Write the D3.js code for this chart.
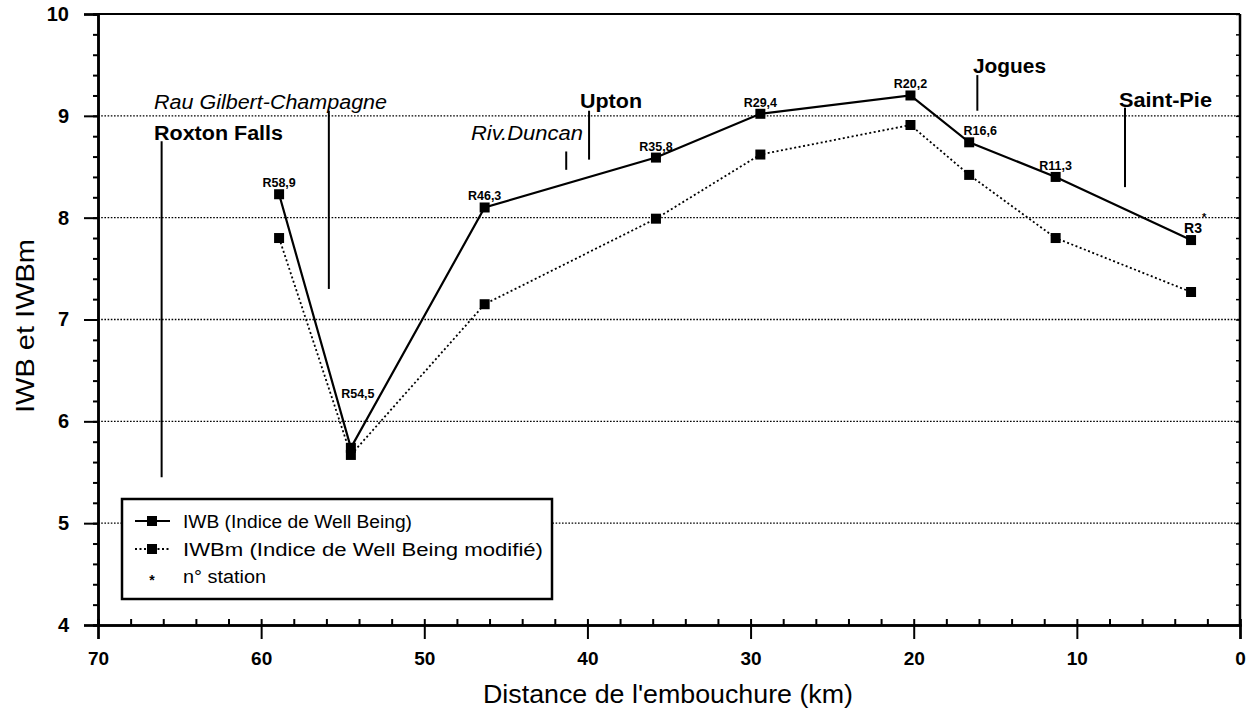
<!DOCTYPE html>
<html>
<head>
<meta charset="utf-8">
<script src="https://cdn.jsdelivr.net/npm/d3@7"></script>
<style>
  html, body { margin: 0; padding: 0; background: #fff; }
  svg { display: block; font-family: "Liberation Sans", Arial, sans-serif; }
</style>
</head>
<body>
<svg id="chart" width="1248" height="719"></svg>
<script>
// Stations along the river (km from the mouth) and their indices
const stations = ["R58,9", "R54,5", "R46,3", "R35,8", "R29,4", "R20,2", "R16,6", "R11,3", "R3"];
const distanceKm = [58.9, 54.5, 46.3, 35.8, 29.4, 20.2, 16.6, 11.3, 3.0];
const iwb  = [8.23, 5.74, 8.10, 8.59, 9.02, 9.20, 8.74, 8.40, 7.78];
const iwbm = [7.80, 5.67, 7.15, 7.99, 8.62, 8.91, 8.42, 7.80, 7.27];

// Landmarks (towns in bold, tributaries in italics)
const landmarkNames = ["Roxton Falls", "Rau Gilbert-Champagne", "Riv.Duncan", "Upton", "Jogues", "Saint-Pie"];
const landmarkKm    = [66.1, 55.85, 41.3, 39.9, 16.1, 7.05];
const landmarkKind  = ["town", "river", "river", "town", "town", "town"];

const xTicks = [70, 60, 50, 40, 30, 20, 10, 0];
const yTicks = [4, 5, 6, 7, 8, 9, 10];
const gridValues = [5, 6, 7, 8, 9];

const legendLabels = ["IWB (Indice de Well Being)", "IWBm (Indice de Well Being modifié)", "n° station"];

const svg = d3.select("#chart");

const x = d3.scaleLinear().domain([70, 0]).range([98, 1240]);
const y = d3.scaleLinear().domain([4, 10]).range([625, 14]);

// Plot frame top / right
svg.append("line").attr("x1", x(70)).attr("x2", x(0)).attr("y1", y(10)).attr("y2", y(10))
  .attr("stroke", "#000").attr("stroke-width", 2);
svg.append("line").attr("x1", x(0)).attr("x2", x(0)).attr("y1", y(10)).attr("y2", y(4))
  .attr("stroke", "#000").attr("stroke-width", 2.5);

// Dotted horizontal gridlines
svg.append("g").selectAll("line").data(gridValues).join("line")
  .attr("x1", x(70)).attr("x2", x(0))
  .attr("y1", d => y(d)).attr("y2", d => y(d))
  .attr("stroke", "#000").attr("stroke-width", 1.4)
  .attr("stroke-dasharray", "1.6,1.6");

// Y axis: major ticks outward, minor ticks every 0.2
const yAxisG = svg.append("g").attr("transform", `translate(${x(70)},0)`);
yAxisG.call(d3.axisLeft(y).tickValues(d3.range(4, 10.001, 0.2)).tickSize(5).tickFormat(""));
yAxisG.append("g").call(d3.axisLeft(y).tickValues(yTicks).tickSize(14).tickFormat(d3.format("d")));
yAxisG.selectAll("path.domain").attr("stroke-width", 2.5);
yAxisG.selectAll("line").attr("stroke-width", 2);
yAxisG.selectAll("text").attr("font-size", 20).attr("font-weight", "bold").attr("fill", "#000").attr("dx", -12);

// Right axis small ticks inside
const rAxisG = svg.append("g").attr("transform", `translate(${x(0)},0)`);
rAxisG.call(d3.axisLeft(y).tickValues(d3.range(4, 10.001, 0.2)).tickSize(4).tickFormat(""));
rAxisG.select("path.domain").remove();
rAxisG.selectAll("line").attr("stroke-width", 1.5);

// X axis: major ticks downward, minor ticks (every 2 km) upward
const xAxisG = svg.append("g").attr("transform", `translate(0,${y(4)})`);
xAxisG.call(d3.axisTop(x).tickValues(d3.range(0, 70.001, 2)).tickSize(6).tickFormat(""));
xAxisG.append("g").call(d3.axisBottom(x).tickValues(xTicks).tickSize(14).tickFormat(d3.format("d")));
xAxisG.selectAll("path.domain").attr("stroke-width", 2.5);
xAxisG.selectAll("line").attr("stroke-width", 2);
xAxisG.selectAll("text").attr("font-size", 19).attr("font-weight", "bold").attr("fill", "#000").attr("dy", "1.2em");

// Landmark markers
const lm = landmarkNames.map((name, i) => ({ name, km: landmarkKm[i], kind: landmarkKind[i] }));
const markerSpan = {
  "Roxton Falls": [8.75, 5.45],
  "Rau Gilbert-Champagne": [9.05, 7.3],
  "Riv.Duncan": [8.65, 8.47],
  "Upton": [9.05, 8.57],
  "Jogues": [9.4, 9.05],
  "Saint-Pie": [9.08, 8.3]
};
const labelPos = {
  "Roxton Falls": { ax: 154, y: 8.76, w: 129 },
  "Rau Gilbert-Champagne": { ax: 154, y: 9.07, w: 233 },
  "Riv.Duncan": { ax: 471, y: 8.76, w: 112 },
  "Upton": { ax: 580, y: 9.08, w: 62 },
  "Jogues": { ax: 973, y: 9.42, w: 73 },
  "Saint-Pie": { ax: 1119, y: 9.09, w: 93 }
};
const lmG = svg.append("g");
lmG.selectAll("line").data(lm).join("line")
  .attr("x1", d => x(d.km)).attr("x2", d => x(d.km))
  .attr("y1", d => y(markerSpan[d.name][0])).attr("y2", d => y(markerSpan[d.name][1]))
  .attr("stroke", "#000").attr("stroke-width", 2);
lmG.selectAll("text").data(lm).join("text")
  .attr("x", d => labelPos[d.name].ax)
  .attr("y", d => y(labelPos[d.name].y))
  .attr("font-size", 20)
  .attr("textLength", d => labelPos[d.name].w)
  .attr("lengthAdjust", "spacingAndGlyphs")
  .attr("font-weight", d => d.kind === "town" ? "bold" : "normal")
  .attr("font-style", d => d.kind === "river" ? "italic" : "normal")
  .text(d => d.name);

// Series lines
const pts = stations.map((s, i) => ({ s, km: distanceKm[i], a: iwb[i], b: iwbm[i] }));
svg.append("path").datum(pts)
  .attr("fill", "none").attr("stroke", "#000").attr("stroke-width", 1.8)
  .attr("stroke-dasharray", "2,2.5")
  .attr("d", d3.line().x(d => x(d.km)).y(d => y(d.b)));
svg.append("path").datum(pts)
  .attr("fill", "none").attr("stroke", "#000").attr("stroke-width", 2.2)
  .attr("d", d3.line().x(d => x(d.km)).y(d => y(d.a)));

// Square markers
const sq = 10;
svg.append("g").selectAll("rect").data(pts).join("rect")
  .attr("x", d => x(d.km) - sq / 2).attr("y", d => y(d.b) - sq / 2)
  .attr("width", sq).attr("height", sq).attr("fill", "#000");
svg.append("g").selectAll("rect").data(pts).join("rect")
  .attr("x", d => x(d.km) - sq / 2).attr("y", d => y(d.a) - sq / 2)
  .attr("width", sq).attr("height", sq).attr("fill", "#000");

// Station labels above IWB points
const stationShift = { "R54,5": [7, -43], "R16,6": [11, 0], "R3": [2, 0] };
svg.append("g").selectAll("text").data(pts).join("text")
  .attr("x", d => x(d.km) + (stationShift[d.s] ? stationShift[d.s][0] : 0))
  .attr("y", d => y(d.a) - 7 + (stationShift[d.s] ? stationShift[d.s][1] : 0))
  .attr("text-anchor", "middle")
  .attr("font-size", d => d.s === "R3" ? 14 : 12.5)
  .attr("font-weight", "bold")
  .text(d => d.s);
// asterisk beside the last station number
svg.append("text").attr("x", x(distanceKm[8]) + 11).attr("y", y(iwb[8]) - 19)
  .attr("font-size", 11).attr("font-weight", "bold").text("*");

// Legend
const lg = svg.append("g").attr("transform", "translate(122,499)");
lg.append("rect").attr("width", 430).attr("height", 100)
  .attr("fill", "#fff").attr("stroke", "#000").attr("stroke-width", 2.5);
const rowY = [22, 50, 77];
const rowW = [229, 360, 83];
lg.append("line").attr("x1", 13).attr("x2", 48).attr("y1", rowY[0]).attr("y2", rowY[0])
  .attr("stroke", "#000").attr("stroke-width", 2);
lg.append("line").attr("x1", 13).attr("x2", 48).attr("y1", rowY[1]).attr("y2", rowY[1])
  .attr("stroke", "#000").attr("stroke-width", 1.8).attr("stroke-dasharray", "2,2.5");
lg.selectAll("rect.sym").data([0, 1]).join("rect").attr("class", "sym")
  .attr("x", 25).attr("y", i => rowY[i] - 5).attr("width", 10).attr("height", 10).attr("fill", "#000");
lg.append("text").attr("x", 30).attr("y", rowY[2] + 9).attr("font-size", 14)
  .attr("font-weight", "bold").attr("text-anchor", "middle").text("*");
lg.selectAll("text.lab").data(legendLabels).join("text").attr("class", "lab")
  .attr("x", 61).attr("y", (d, i) => rowY[i] + 7)
  .attr("font-size", 18)
  .attr("textLength", (d, i) => rowW[i])
  .attr("lengthAdjust", "spacingAndGlyphs")
  .text(d => d);

// Axis titles
svg.append("text").attr("x", 668).attr("y", 703)
  .attr("text-anchor", "middle").attr("font-size", 26)
  .attr("textLength", 370).attr("lengthAdjust", "spacingAndGlyphs")
  .text("Distance de l'embouchure (km)");
svg.append("text").attr("transform", "translate(34,326) rotate(-90)")
  .attr("text-anchor", "middle").attr("font-size", 25)
  .attr("textLength", 174).attr("lengthAdjust", "spacingAndGlyphs")
  .text("IWB et IWBm");
</script>
</body>
</html>
